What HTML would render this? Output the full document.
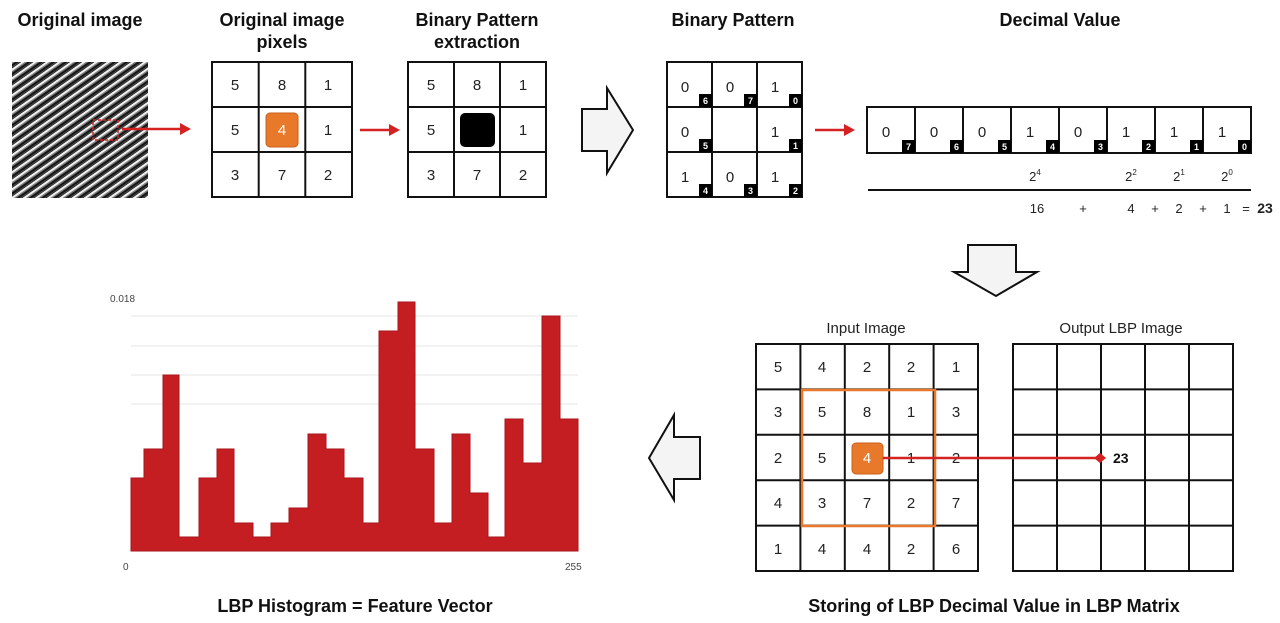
<!DOCTYPE html>
<html><head><meta charset="utf-8"><style>
html,body{margin:0;padding:0;background:#fff;}
svg{display:block;}
text{font-family:"Liberation Sans",sans-serif;}
</style></head><body>
<svg width="1280" height="623" viewBox="0 0 1280 623" xmlns="http://www.w3.org/2000/svg">
<defs>
<pattern id="st" width="7" height="7" patternUnits="userSpaceOnUse" patternTransform="rotate(-35)">
<rect width="7" height="7" fill="#151515"/><rect y="0" width="7" height="2.2" fill="#f2f2f2"/><rect y="2.2" width="7" height="1.2" fill="#888"/><rect y="5.5" width="7" height="0.8" fill="#555"/>
</pattern>
</defs>
<g font-weight="bold" font-size="18" fill="#111" text-anchor="middle">
<text x="80" y="26">Original image</text>
<text x="282" y="26">Original image</text><text x="282" y="48">pixels</text>
<text x="477" y="26">Binary Pattern</text><text x="477" y="48">extraction</text>
<text x="733" y="26">Binary Pattern</text>
<text x="1060" y="26">Decimal Value</text>
<text x="355" y="612">LBP Histogram = Feature Vector</text>
<text x="994" y="612">Storing of LBP Decimal Value in LBP Matrix</text>
</g>
<!-- original image -->
<rect x="12" y="62" width="136" height="136" fill="url(#st)"/>
<rect x="93" y="120" width="25" height="20" fill="none" stroke="#d22" stroke-width="1.5" stroke-dasharray="3,2"/>
<g stroke="#d42222" stroke-width="2.5" fill="#d42222">
<line x1="122" y1="129" x2="180" y2="129"/><polygon points="180,123 191,129 180,135" stroke="none"/>
<line x1="360" y1="130" x2="390" y2="130"/><polygon points="389,124 400,130 389,136" stroke="none"/>
<line x1="815" y1="130" x2="845" y2="130"/><polygon points="844,124 855,130 844,136" stroke="none"/>
</g>
<!-- grid1 -->
<g fill="none" stroke="#111" stroke-width="2">
<rect x="212" y="62" width="140" height="135"/>
<line x1="258.7" y1="62" x2="258.7" y2="197"/><line x1="305.3" y1="62" x2="305.3" y2="197"/>
<line x1="212" y1="107" x2="352" y2="107"/><line x1="212" y1="152" x2="352" y2="152"/>
<rect x="408" y="62" width="138" height="135"/>
<line x1="454" y1="62" x2="454" y2="197"/><line x1="500" y1="62" x2="500" y2="197"/>
<line x1="408" y1="107" x2="546" y2="107"/><line x1="408" y1="152" x2="546" y2="152"/>
<rect x="667" y="62" width="135" height="135"/>
<line x1="712" y1="62" x2="712" y2="197"/><line x1="757" y1="62" x2="757" y2="197"/>
<line x1="667" y1="107" x2="802" y2="107"/><line x1="667" y1="152" x2="802" y2="152"/>
</g>
<rect x="266" y="113" width="32" height="34" rx="4" fill="#e8792a" stroke="#c8601a"/>
<rect x="460" y="113" width="35" height="34" rx="5" fill="#000"/>
<g font-size="15" fill="#222" text-anchor="middle">
<text x="235" y="90">5</text><text x="282" y="90">8</text><text x="328" y="90">1</text>
<text x="235" y="135">5</text><text x="282" y="135" fill="#fff">4</text><text x="328" y="135">1</text>
<text x="235" y="180">3</text><text x="282" y="180">7</text><text x="328" y="180">2</text>
<text x="431" y="90">5</text><text x="477" y="90">8</text><text x="523" y="90">1</text>
<text x="431" y="135">5</text><text x="523" y="135">1</text>
<text x="431" y="180">3</text><text x="477" y="180">7</text><text x="523" y="180">2</text>
<text x="685" y="92">0</text><text x="730" y="92">0</text><text x="775" y="92">1</text>
<text x="685" y="137">0</text><text x="775" y="137">1</text>
<text x="685" y="182">1</text><text x="730" y="182">0</text><text x="775" y="182">1</text>
</g>
<g font-size="9" font-weight="bold" text-anchor="middle">
<g fill="#000"><rect x="699" y="94" width="13" height="13"/><rect x="744" y="94" width="13" height="13"/><rect x="789" y="94" width="13" height="13"/>
<rect x="699" y="139" width="13" height="13"/><rect x="789" y="139" width="13" height="13"/>
<rect x="699" y="184" width="13" height="13"/><rect x="744" y="184" width="13" height="13"/><rect x="789" y="184" width="13" height="13"/></g>
<g fill="#fff"><text x="705.5" y="104">6</text><text x="750.5" y="104">7</text><text x="795.5" y="104">0</text>
<text x="705.5" y="149">5</text><text x="795.5" y="149">1</text>
<text x="705.5" y="194">4</text><text x="750.5" y="194">3</text><text x="795.5" y="194">2</text></g>
</g>
<!-- right white arrow -->
<polygon points="582,109 607,109 607,88 633,130 607,173 607,151 582,151" fill="#f4f4f4" stroke="#111" stroke-width="2"/>
<!-- decimal row -->
<g fill="none" stroke="#111" stroke-width="2">
<rect x="867" y="107" width="384" height="46"/>
<line x1="915" y1="107" x2="915" y2="153"/><line x1="963" y1="107" x2="963" y2="153"/><line x1="1011" y1="107" x2="1011" y2="153"/><line x1="1059" y1="107" x2="1059" y2="153"/><line x1="1107" y1="107" x2="1107" y2="153"/><line x1="1155" y1="107" x2="1155" y2="153"/><line x1="1203" y1="107" x2="1203" y2="153"/>
<line x1="868" y1="190" x2="1251" y2="190"/>
</g>
<g fill="#000"><rect x="902" y="140" width="13" height="13"/><rect x="950" y="140" width="13" height="13"/><rect x="998" y="140" width="13" height="13"/><rect x="1046" y="140" width="13" height="13"/><rect x="1094" y="140" width="13" height="13"/><rect x="1142" y="140" width="13" height="13"/><rect x="1190" y="140" width="13" height="13"/><rect x="1238" y="140" width="13" height="13"/></g>
<g font-size="9" font-weight="bold" fill="#fff" text-anchor="middle">
<text x="908.5" y="150">7</text><text x="956.5" y="150">6</text><text x="1004.5" y="150">5</text><text x="1052.5" y="150">4</text><text x="1100.5" y="150">3</text><text x="1148.5" y="150">2</text><text x="1196.5" y="150">1</text><text x="1244.5" y="150">0</text>
</g>
<g font-size="15" fill="#222" text-anchor="middle">
<text x="886" y="137">0</text><text x="934" y="137">0</text><text x="982" y="137">0</text><text x="1030" y="137">1</text><text x="1078" y="137">0</text><text x="1126" y="137">1</text><text x="1174" y="137">1</text><text x="1222" y="137">1</text>
</g>
<g font-size="13" fill="#222" text-anchor="middle">
<text x="1035" y="181">2<tspan font-size="8" dy="-6">4</tspan></text>
<text x="1131" y="181">2<tspan font-size="8" dy="-6">2</tspan></text>
<text x="1179" y="181">2<tspan font-size="8" dy="-6">1</tspan></text>
<text x="1227" y="181">2<tspan font-size="8" dy="-6">0</tspan></text>
<text x="1037" y="213">16</text><text x="1083" y="213">+</text><text x="1131" y="213">4</text><text x="1155" y="213">+</text><text x="1179" y="213">2</text><text x="1203" y="213">+</text><text x="1227" y="213">1</text><text x="1246" y="213">=</text>
<text x="1265" y="213" font-weight="bold" font-size="14">23</text>
</g>
<!-- down arrow -->
<polygon points="968,245 1016,245 1016,272 1037,272 996,296 954,272 968,272" fill="#f4f4f4" stroke="#111" stroke-width="2"/>
<!-- input/output grids -->
<g font-size="15" fill="#222" text-anchor="middle">
<text x="866" y="333">Input Image</text><text x="1121" y="333">Output LBP Image</text>
</g>
<g fill="none" stroke="#111" stroke-width="2">
<rect x="756" y="344" width="222" height="227"/>
<line x1="800.4" y1="344" x2="800.4" y2="571"/><line x1="844.8" y1="344" x2="844.8" y2="571"/><line x1="889.2" y1="344" x2="889.2" y2="571"/><line x1="933.6" y1="344" x2="933.6" y2="571"/>
<line x1="756" y1="389.4" x2="978" y2="389.4"/><line x1="756" y1="434.8" x2="978" y2="434.8"/><line x1="756" y1="480.2" x2="978" y2="480.2"/><line x1="756" y1="525.6" x2="978" y2="525.6"/>
<rect x="1013" y="344" width="220" height="227"/>
<line x1="1057" y1="344" x2="1057" y2="571"/><line x1="1101" y1="344" x2="1101" y2="571"/><line x1="1145" y1="344" x2="1145" y2="571"/><line x1="1189" y1="344" x2="1189" y2="571"/>
<line x1="1013" y1="389.4" x2="1233" y2="389.4"/><line x1="1013" y1="434.8" x2="1233" y2="434.8"/><line x1="1013" y1="480.2" x2="1233" y2="480.2"/><line x1="1013" y1="525.6" x2="1233" y2="525.6"/>
</g>
<rect x="802" y="390" width="133" height="136" fill="none" stroke="#e8792a" stroke-width="2.5"/>
<g font-size="15" fill="#222" text-anchor="middle">
<text x="778" y="372">5</text><text x="822" y="372">4</text><text x="867" y="372">2</text><text x="911" y="372">2</text><text x="956" y="372">1</text>
<text x="778" y="417">3</text><text x="822" y="417">5</text><text x="867" y="417">8</text><text x="911" y="417">1</text><text x="956" y="417">3</text>
<text x="778" y="463">2</text><text x="822" y="463">5</text><text x="911" y="463">1</text><text x="956" y="463">2</text>
<text x="778" y="508">4</text><text x="822" y="508">3</text><text x="867" y="508">7</text><text x="911" y="508">2</text><text x="956" y="508">7</text>
<text x="778" y="554">1</text><text x="822" y="554">4</text><text x="867" y="554">4</text><text x="911" y="554">2</text><text x="956" y="554">6</text>
</g>
<rect x="852" y="443" width="31" height="31" rx="4" fill="#e8792a" stroke="#c8601a"/>
<text x="867" y="463" font-size="15" fill="#fff" text-anchor="middle">4</text>
<line x1="883" y1="458" x2="1098" y2="458" stroke="#d42222" stroke-width="2.5"/>
<polygon points="1094,458 1100,453 1106,458 1100,463" fill="#d42222"/>
<text x="1113" y="463" font-size="14" font-weight="bold" fill="#111">23</text>
<!-- left arrow -->
<polygon points="700,437 674,437 674,415 649,458 674,500 674,479 700,479" fill="#f4f4f4" stroke="#111" stroke-width="2"/>
<!-- histogram -->
<g stroke="#e4e4e4" stroke-width="1"><line x1="131" y1="316" x2="578" y2="316"/><line x1="131" y1="346" x2="578" y2="346"/><line x1="131" y1="375" x2="578" y2="375"/><line x1="131" y1="404" x2="578" y2="404"/></g>
<polygon fill="#c41e22" stroke="#a8161a" stroke-width="1" points="131,551 131,478 144,478 144,449 163,449 163,375 179,375 179,537 199,537 199,478 217,478 217,449 234,449 234,523 253,523 253,537 271,537 271,523 289,523 289,508 308,508 308,434 326,434 326,449 344,449 344,478 363,478 363,523 379,523 379,331 398,331 398,302 415,302 415,449 434,449 434,523 452,523 452,434 470,434 470,493 488,493 488,537 505,537 505,419 523,419 523,463 542,463 542,316 560,316 560,419 578,419 578,551"/>
<g font-size="10" fill="#444"><text x="110" y="302">0.018</text><text x="123" y="570">0</text><text x="565" y="570">255</text></g>
</svg>
</body></html>
